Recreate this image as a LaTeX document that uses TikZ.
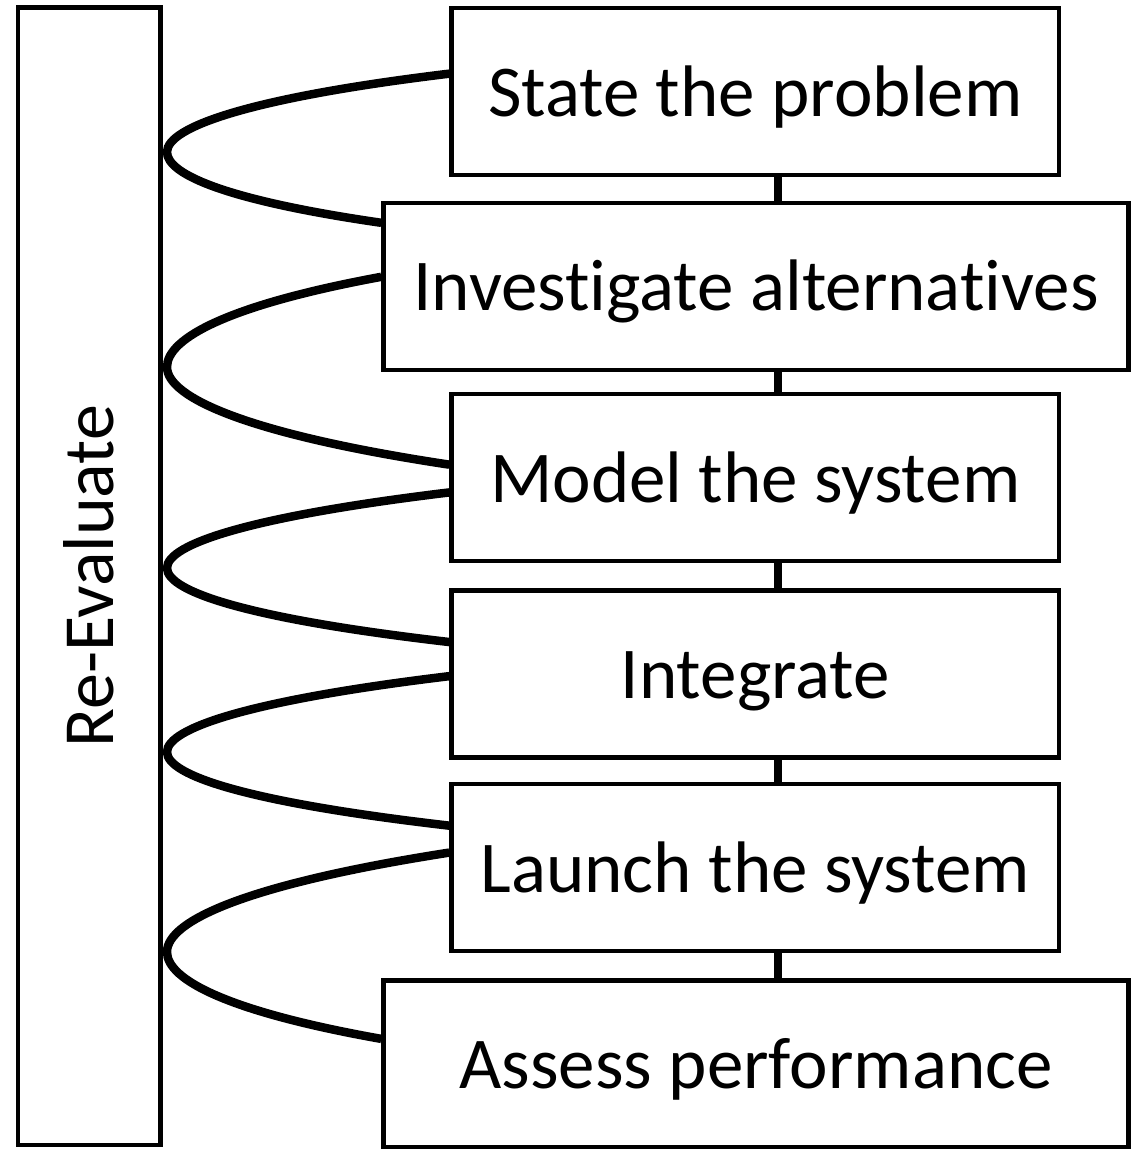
\documentclass[tikz,border=0pt]{standalone}
\usepackage{fontspec}
\setmainfont{Carlito}[Ligatures=NoCommon]
\usetikzlibrary{calc}
\begin{document}
\begin{tikzpicture}[x=1pt,y=-1pt,
  stepbox/.style={draw=black, line width=4.5pt, fill=white, rectangle,
    minimum height=167pt, inner sep=0pt, text height=49pt, text depth=0pt,
    font=\fontsize{73pt}{80pt}\selectfont},
  narrowbox/.style={stepbox, minimum width=607.5pt},
  widebox/.style={stepbox, minimum width=745pt},
  link/.style={draw=black, line width=8pt},
  loopcurve/.style={draw=black, line width=8.5pt}]
\useasboundingbox (0,0) rectangle (1140,1149);
% left tall box
\node[draw=black, line width=4.5pt, rotate=90, minimum width=1137.5pt,
  minimum height=142.5pt, inner sep=0pt, text height=49pt, text depth=0pt,
  font=\fontsize{72pt}{80pt}\selectfont] (re) at (89.25,576.25) {Re-Evaluate};
% step boxes
\node[narrowbox] (b1) at (755.25,91.5) {State the problem};
\node[widebox] (b2) at (756,286.25) {Investigate alternatives};
\node[narrowbox] (b3) at (755.25,477.5) {Model the system};
\node[narrowbox] (b4) at (755.25,673.75) {Integrate};
\node[narrowbox] (b5) at (755.25,867.5) {Launch the system};
\node[widebox] (b6) at (756,1063.75) {Assess performance};
% vertical links
\coordinate (sp) at (778,0);
\draw[link] (b1.south -| sp) -- (b2.north -| sp);
\draw[link] (b2.south -| sp) -- (b3.north -| sp);
\draw[link] (b3.south -| sp) -- (b4.north -| sp);
\draw[link] (b4.south -| sp) -- (b5.north -| sp);
\draw[link] (b5.south -| sp) -- (b6.north -| sp);
% curve end points
\coordinate (s1) at ($(b1.north west)!0.396!(b1.south west)$);
\coordinate (e1) at ($(b2.north west)!0.130!(b2.south west)$);
\coordinate (s2) at ($(b2.north west)!0.445!(b2.south west)$);
\coordinate (e2) at ($(b3.north west)!0.425!(b3.south west)$);
\coordinate (s3) at ($(b3.north west)!0.587!(b3.south west)$);
\coordinate (e3) at ($(b4.north west)!0.315!(b4.south west)$);
\coordinate (s4) at ($(b4.north west)!0.514!(b4.south west)$);
\coordinate (e4) at ($(b5.north west)!0.256!(b5.south west)$);
\coordinate (s5) at ($(b5.north west)!0.413!(b5.south west)$);
\coordinate (e5) at ($(b6.north west)!0.355!(b6.south west)$);
% leftmost turning points
\coordinate (l1) at (167,152);
\coordinate (l2) at (167,367);
\coordinate (l3) at (167,568);
\coordinate (l4) at (167,752);
\coordinate (l5) at (167,952);
% loop curves
\draw[loopcurve] (s1) .. controls +(-199,24) and +(0,-25) .. (l1)
  .. controls +(0,23) and +(-152,-22) .. (e1);
\draw[loopcurve] (s2) .. controls +(-152,28) and +(0,-29) .. (l2)
  .. controls +(0,31) and +(-199,-30) .. (e2);
\draw[loopcurve] (s3) .. controls +(-199,24) and +(0,-24) .. (l3)
  .. controls +(0,24) and +(-199,-23) .. (e3);
\draw[loopcurve] (s4) .. controls +(-199,24) and +(0,-24) .. (l4)
  .. controls +(0,24) and +(-199,-23) .. (e4);
\draw[loopcurve] (s5) .. controls +(-199,31) and +(0,-32) .. (l5)
  .. controls +(0,28) and +(-152,-27) .. (e5);
\end{tikzpicture}
\end{document}
